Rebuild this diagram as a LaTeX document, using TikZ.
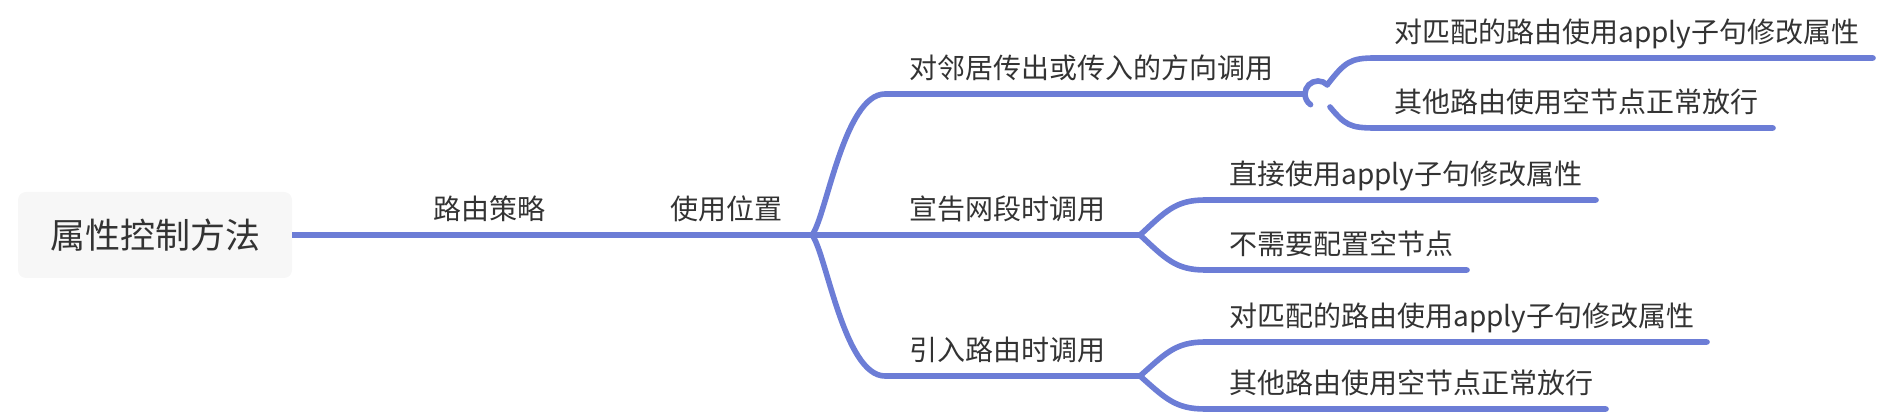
\documentclass[tikz,border=0pt]{standalone}
\usepackage{fontspec}
\setmainfont{Noto Sans CJK SC}
\usetikzlibrary{calc}
\definecolor{branchblue}{HTML}{6C7DD6}
\definecolor{txtgray}{HTML}{333333}
\definecolor{rootfill}{HTML}{F7F7F7}
\begin{document}
\begin{tikzpicture}[x=0.5pt,y=-0.5pt,
  branch/.style={draw=branchblue, line width=2.8pt, line cap=round},
  rootline/.style={draw=branchblue, line width=2.8pt},
  lbl/.style={anchor=base west, inner sep=0pt, text=txtgray, font=\fontsize{14pt}{16pt}\selectfont},
  rootbox/.style={fill=rootfill, rounded corners=4pt, minimum width=137pt, minimum height=43pt, inner sep=0pt, text=txtgray, font=\fontsize{17.5pt}{20pt}\selectfont}]
\useasboundingbox (0,0) rectangle (1890,416);

% root
\node[rootbox] (root) at (155,235) {属性控制方法};

% labels
\node[lbl] (n1) at (433,220) {路由策略};
\node[lbl] (n2) at (670,220) {使用位置};
\node[lbl] (b1) at (909,79) {对邻居传出或传入的方向调用};
\node[lbl] (b2) at (909,220) {宣告网段时调用};
\node[lbl] (b3) at (909,361) {引入路由时调用};
\node[lbl] (b1c1) at (1394,43) {对匹配的路由使用apply子句修改属性};
\node[lbl] (b1c2) at (1394,113) {其他路由使用空节点正常放行};
\node[lbl] (b2c1) at (1229,185) {直接使用apply子句修改属性};
\node[lbl] (b2c2) at (1229,255) {不需要配置空节点};
\node[lbl] (b3c1) at (1229,327) {对匹配的路由使用apply子句修改属性};
\node[lbl] (b3c2) at (1229,394) {其他路由使用空节点正常放行};

% connector points
\coordinate (e0) at (560,235);
\coordinate (J1) at (812,235);
\coordinate (h1) at (885,94);
\coordinate (J2) at (1305,94);
\coordinate (J3) at (1140,235);
\coordinate (h3) at (885,376);
\coordinate (J4) at (1140,376);
\coordinate (C2) at (1318,94);
\coordinate (u11) at (1375,58);  \coordinate (e11) at (1873,58);
\coordinate (u12) at (1375,128); \coordinate (e12) at (1773,128);
\coordinate (u21) at (1205,200); \coordinate (e21) at (1596,200);
\coordinate (u22) at (1205,270); \coordinate (e22) at (1467,270);
\coordinate (u31) at (1205,342); \coordinate (e31) at (1707,342);
\coordinate (u32) at (1205,409); \coordinate (e32) at (1606,409);
\coordinate (k1) at ($(C2)+(-45:13)$);
\coordinate (k2) at (1330,107);

% level 0 -> 1
\draw[rootline] (root.east) -- (e0);
\draw[branch] (e0) -- (J1);

% level 1 branches
\draw[branch] (J1) .. controls (826,218) and (844,94) .. (h1) -- (J2);
\draw[branch] (J1) -- (J3);
\draw[branch] (J1) .. controls (826,252) and (844,376) .. (h3) -- (J4);

% branch 1 fork (with the small loop)
\draw[branch] (J2) arc[start angle=-180, end angle=-45, radius=13];
\draw[branch] (J2) arc[start angle=180, end angle=125, radius=13];
\draw[branch] (k1) .. controls (1345,62) and (1350,58) .. (u11) -- (e11);
\draw[branch] (k2) .. controls (1345,125) and (1350,128) .. (u12) -- (e12);

% branch 2 fork
\draw[branch] (J3) .. controls (1165,212) and (1175,200) .. (u21) -- (e21);
\draw[branch] (J3) .. controls (1165,258) and (1175,270) .. (u22) -- (e22);

% branch 3 fork
\draw[branch] (J4) .. controls (1165,354) and (1175,342) .. (u31) -- (e31);
\draw[branch] (J4) .. controls (1165,398) and (1175,409) .. (u32) -- (e32);
\end{tikzpicture}
\end{document}
